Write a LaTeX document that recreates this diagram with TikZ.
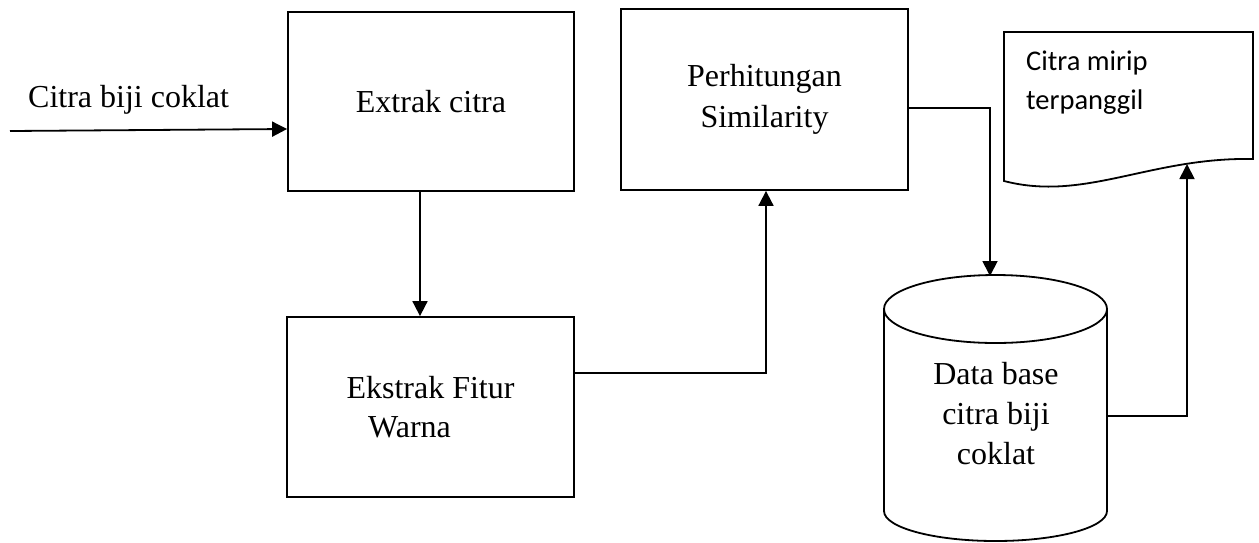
\documentclass[tikz,border=0pt]{standalone}
\usepackage{fontspec}
\setmainfont{Liberation Serif}
\newfontfamily\calfont{Carlito}
\usetikzlibrary{arrows.meta}
\begin{document}
\begin{tikzpicture}[x=1pt,y=1pt,
  line/.style={line width=1.8pt,line join=miter},
  arr/.style={line,-{Triangle[length=15pt,width=15pt]}},
  box/.style={line,draw,rectangle,inner sep=0pt,align=center,
    font=\fontsize{32}{41}\selectfont},
  txt/.style={inner sep=0pt,font=\fontsize{32}{40}\selectfont}]
\useasboundingbox (0,0) rectangle (1259,-542);
% process boxes
\node[box,minimum width=286,minimum height=179] (extrak) at (431,-101.5) {Extrak citra};
\node[box,minimum width=287,minimum height=180] (fitur) at (430.5,-407)
  {\hspace*{0pt}Ekstrak Fitur\\[-2pt]\hspace*{-42pt}Warna};
\node[box,minimum width=287,minimum height=181] (perh) at (764.5,-99.5)
  {Perhitungan\\Similarity};
% database cylinder
\node[inner sep=0pt,minimum width=223,minimum height=266] (db) at (995.5,-408) {};
\draw[line] (995.5,-309) ellipse[x radius=111.5pt,y radius=34pt];
\draw[line] (884,-309) -- (884,-511) arc[start angle=180,end angle=360,x radius=111.5pt,y radius=30pt] -- (1107,-309);
\node[txt,align=center] (dbtext) at (996,-414) {Data base\\citra biji\\coklat};
% document shape
\node[inner sep=0pt,minimum width=249,minimum height=149] (doc) at (1128.5,-106.5) {};
\draw[line] (1004,-32) -- (1253,-32) -- (1253,-159)
  .. controls (1150,-157) and (1085,-202) .. (1004,-181) -- cycle;
\node[inner sep=0pt,anchor=base west,align=left,font=\calfont\fontsize{28.5}{38.7}\selectfont]
  (doctext) at (1026,-109) {Citra mirip\\terpanggil};
% input
\coordinate (in) at (10,-131);
\node[txt,anchor=base west] (inlabel) at (28,-107) {Citra biji coklat};
\draw[arr] (in) -- ([yshift=-27.5]extrak.west);
% connectors
\draw[arr] ([xshift=-11]extrak.south) -- ([xshift=-10.5]fitur.north);
\draw[arr] ([yshift=34]fitur.east) -| ([xshift=1.5]perh.south);
\coordinate (dbtop) at (990,-276);
\draw[arr] ([yshift=-8.5]perh.east) -| (dbtop);
\coordinate (docin) at (1187,-164);
\draw[arr] ([yshift=-8]db.east) -| (docin);
\end{tikzpicture}
\end{document}
